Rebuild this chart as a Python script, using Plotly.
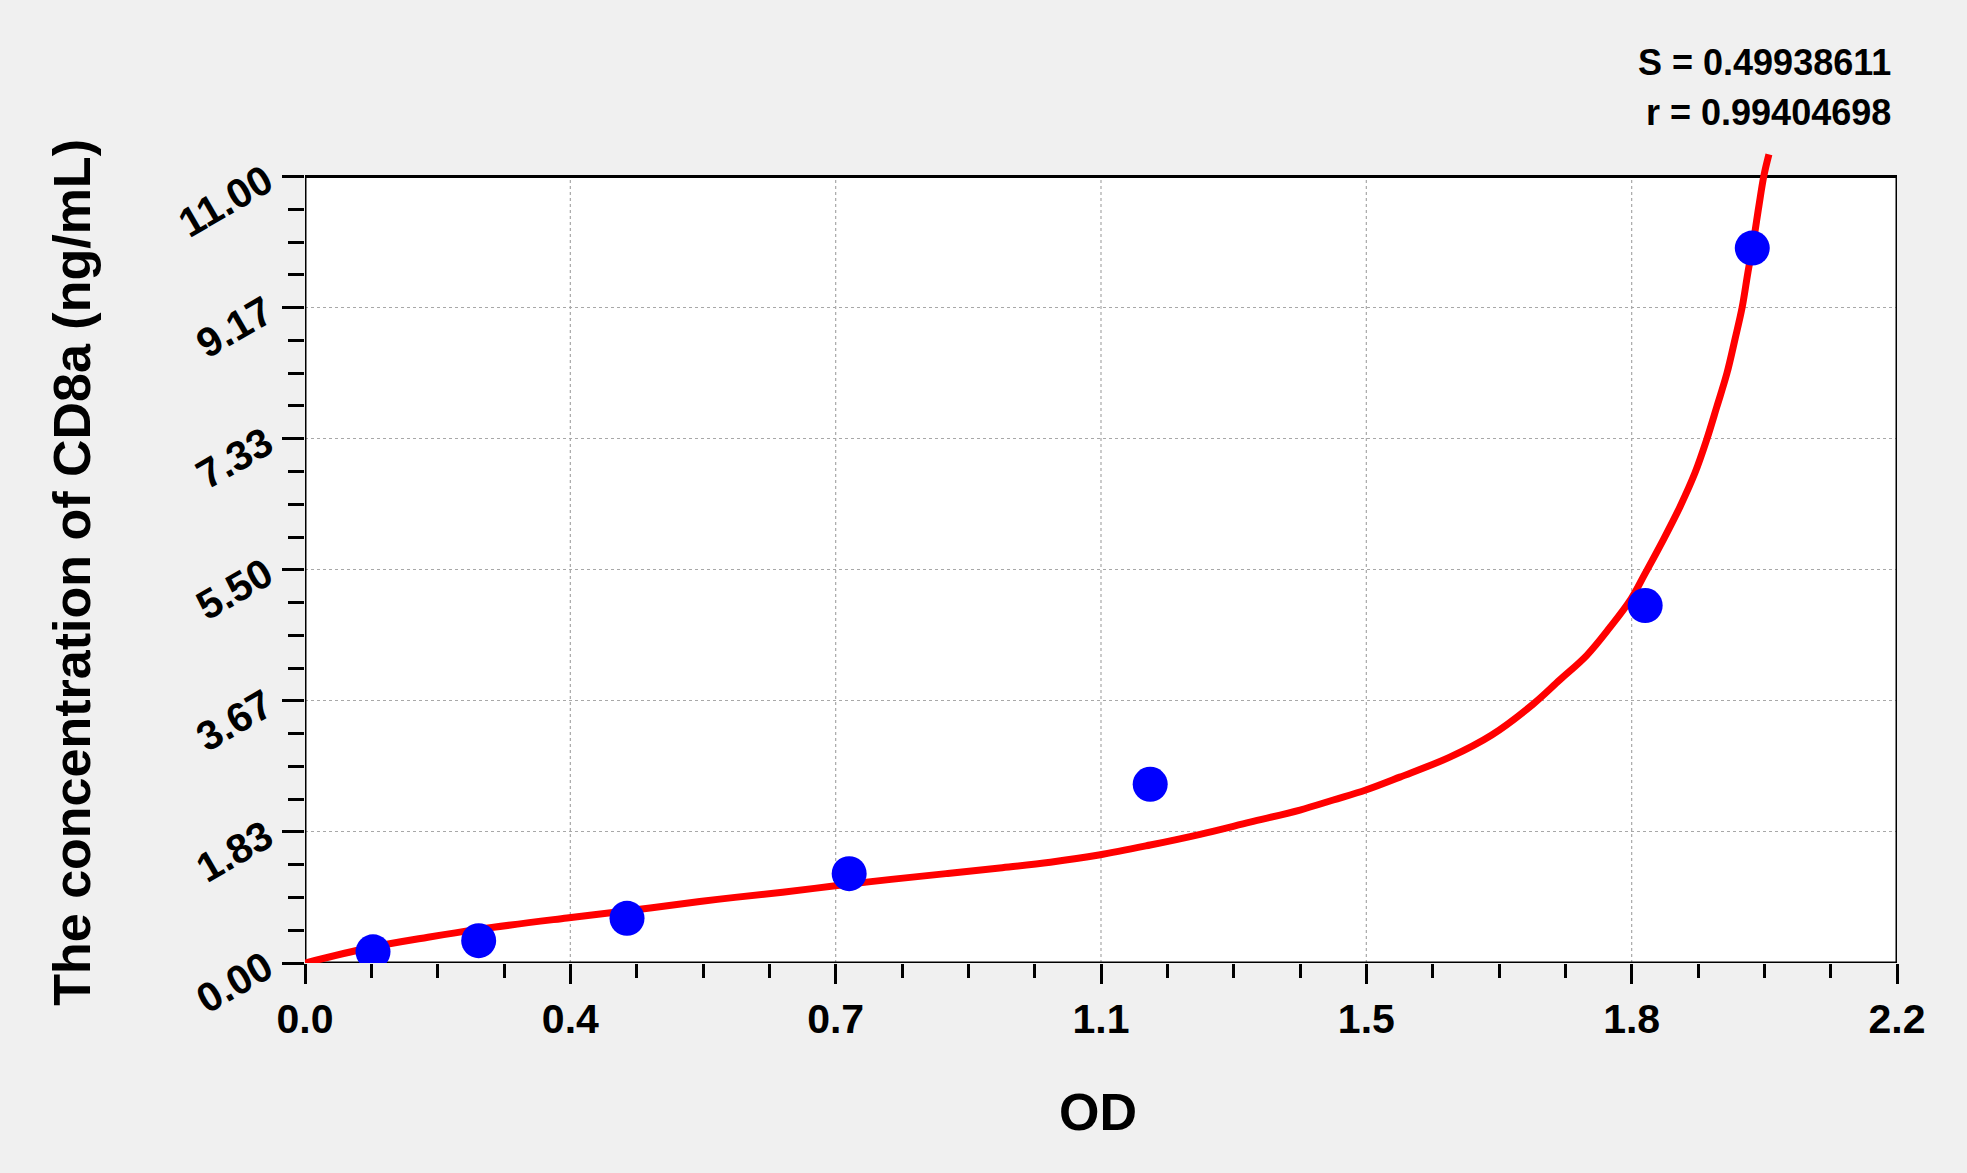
"""
CD8a ELISA standard curve — OD vs concentration, with fitted curve.
"""

import plotly.graph_objects as go

# ---------------------------------------------------------------------------
# DATA
# ---------------------------------------------------------------------------
STD_OD = [0.094, 0.240, 0.445, 0.752, 1.168, 1.852, 2.000]
STD_CONC = [0.156, 0.3125, 0.625, 1.25, 2.5, 5.0, 10.0]

FIT_OD = [0.000, 0.092, 0.170, 0.239, 0.362, 0.477, 0.570, 0.660, 0.733,
          0.810, 0.886, 0.960, 1.030, 1.097, 1.168, 1.237, 1.306, 1.375,
          1.421, 1.466, 1.513, 1.582, 1.640, 1.697, 1.734, 1.771, 1.803,
          1.833, 1.852, 1.877, 1.900, 1.921, 1.937, 1.951, 1.965, 1.976,
          1.986, 1.994, 2.002, 2.009, 2.016, 2.023]
FIT_CONC = [0.00, 0.22, 0.36, 0.47, 0.63, 0.77, 0.89, 0.99, 1.08,
            1.17, 1.25, 1.33, 1.41, 1.51, 1.65, 1.80, 1.97, 2.14,
            2.28, 2.42, 2.60, 2.88, 3.19, 3.62, 3.96, 4.30, 4.69,
            5.10, 5.45, 5.92, 6.38, 6.86, 7.32, 7.78, 8.25, 8.72,
            9.17, 9.66, 10.12, 10.58, 11.01, 11.31]

X_TICKS = [0.0, 2.2 / 6, 4.4 / 6, 1.1, 8.8 / 6, 11.0 / 6, 2.2]
X_LABELS = ["0.0", "0.4", "0.7", "1.1", "1.5", "1.8", "2.2"]
Y_TICKS = [0.0, 11 / 6, 22 / 6, 5.5, 44 / 6, 55 / 6, 11.0]
Y_LABELS = ["0.00", "1.83", "3.67", "5.50", "7.33", "9.17", "11.00"]

FIT_S = "S = 0.49938611"
FIT_R = "r = 0.99404698"

# ---------------------------------------------------------------------------
# STYLE
# ---------------------------------------------------------------------------
FONT = "Liberation Sans, Arial, sans-serif"
BG = "#f0f0f0"
GRID = "#a8a8a8"
X_MAX = 2.2
Y_MAX = 11.0
Y_TOP = 11.4  # room for the curve that runs past the frame

fig = go.Figure()

fig.add_trace(
    go.Scatter(
        x=FIT_OD,
        y=FIT_CONC,
        mode="lines",
        line=dict(color="#ff0000", width=7, shape="spline", smoothing=1.0),
        showlegend=False,
    )
)
fig.add_trace(
    go.Scatter(
        x=STD_OD,
        y=STD_CONC,
        mode="markers",
        marker=dict(color="#0000ff", size=35, line=dict(width=0)),
        showlegend=False,
    )
)

# white plotting frame (stops at 11 while the axis runs a little higher)
shapes = [
    dict(type="rect", xref="x", yref="y", x0=0, x1=X_MAX, y0=0, y1=Y_MAX,
         fillcolor="white", line=dict(width=0), layer="below"),
]
for v in X_TICKS[1:-1]:
    shapes.append(
        dict(type="line", xref="x", yref="y", x0=v, x1=v, y0=0, y1=Y_MAX,
             line=dict(color=GRID, width=1.2, dash="dot"), layer="below")
    )
shapes.append(
    dict(type="rect", xref="x", yref="y", x0=0, x1=X_MAX, y0=0, y1=Y_MAX,
         fillcolor="rgba(0,0,0,0)", line=dict(color="black", width=3),
         layer="between")
)

tick_font = dict(family=FONT, size=41, color="black", weight="bold")
title_font = dict(family=FONT, size=52, color="black", weight="bold")
note_font = dict(family=FONT, size=36, color="black", weight="bold")

fig.update_layout(
    width=1967,
    height=1173,
    autosize=False,
    margin=dict(l=305, r=70, t=148, b=210),
    paper_bgcolor=BG,
    plot_bgcolor=BG,
    shapes=shapes,
    xaxis=dict(
        range=[0, X_MAX],
        tickmode="array",
        tickvals=X_TICKS,
        ticktext=X_LABELS,
        tickfont=tick_font,
        ticks="outside",
        ticklen=20,
        tickwidth=3,
        tickcolor="black",
        ticklabelstandoff=0,
        minor=dict(ticks="outside", tick0=0, dtick=X_MAX / 24, ticklen=14,
                   tickwidth=3, tickcolor="black", showgrid=False),
        showgrid=False,
        zeroline=False,
        showline=False,
    ),
    yaxis=dict(
        range=[0, Y_TOP],
        tickmode="array",
        tickvals=Y_TICKS,
        ticktext=Y_LABELS,
        tickfont=tick_font,
        tickangle=-30,
        ticks="outside",
        ticklen=22,
        tickwidth=3,
        tickcolor="black",
        ticklabelstandoff=8,
        minor=dict(ticks="outside", tick0=0, dtick=Y_MAX / 24, ticklen=16,
                   tickwidth=3, tickcolor="black", showgrid=False),
        showgrid=True,
        gridcolor=GRID,
        gridwidth=1.2,
        griddash="dot",
        zeroline=False,
        showline=False,
    ),
    annotations=[
        dict(text="OD", xref="paper", yref="paper", x=0.498, y=-0.183,
             xanchor="center", yanchor="middle", showarrow=False,
             font=title_font),
        dict(text="The concentration of CD8a (ng/mL)", xref="paper",
             yref="paper", x=-0.1464, y=0.48, textangle=-90,
             xanchor="center", yanchor="middle", showarrow=False,
             font=title_font),
        dict(text=FIT_S, xref="paper", yref="paper", x=0.9975, y=1.105,
             xanchor="right", yanchor="middle", showarrow=False,
             font=note_font),
        dict(text=FIT_R, xref="paper", yref="paper", x=0.9975, y=1.0436,
             xanchor="right", yanchor="middle", showarrow=False,
             font=note_font),
    ],
)

fig.write_html(
    "out.html",
    config={"displayModeBar": False},
    post_script="document.body.style.margin='0';",
)
